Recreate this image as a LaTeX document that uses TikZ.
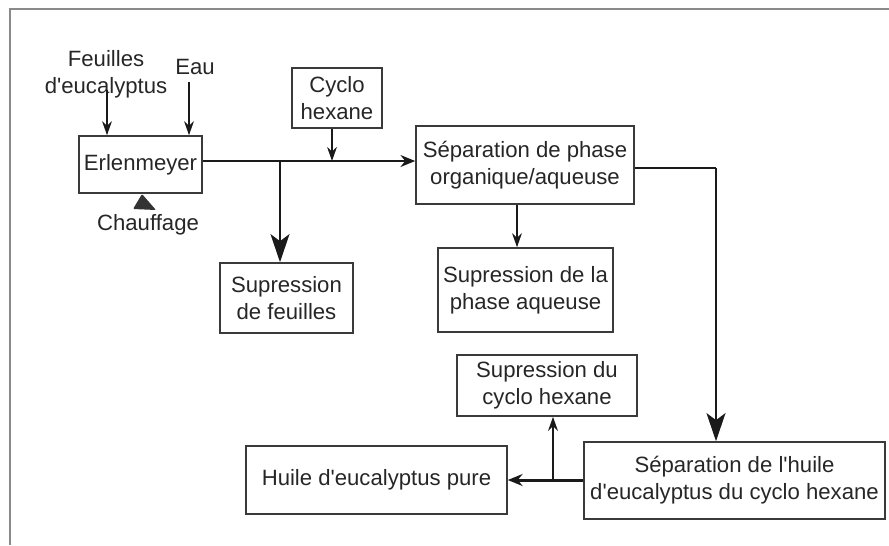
\documentclass[tikz,border=0pt]{standalone}
\usepackage{fontspec}
\setmainfont{Liberation Sans}[Ligatures=TeXOff]
\usetikzlibrary{arrows.meta,positioning,calc}
\definecolor{cLine}{HTML}{1A1A1A}
\definecolor{cBox}{HTML}{3A3A3A}
\definecolor{cFrame}{HTML}{8A8A8A}
\tikzset{
  box/.style={rectangle, draw=cBox, line width=0.45pt, align=center, inner sep=0pt, text=black!85},
  lbl/.style={align=center, inner sep=0pt, text=black!85},
  flow/.style={-{Stealth[length=4.2pt, width=3.4pt]}, line width=0.55pt, cLine},
  feed/.style={-{Stealth[length=4pt, width=2.8pt]}, line width=0.4pt, cLine},
  big/.style={-{Stealth[length=8pt, width=5.4pt, inset=2pt]}, line width=0.6pt, cLine},
}
\begin{document}
\begin{tikzpicture}[font=\fontsize{6.3}{7.7}\selectfont]
  \useasboundingbox (0,0) rectangle (8.89,-5.45);
  \draw[cFrame, line width=0.6pt] (8.89,-0.09) -| (0.10,-5.45);
  % boxes
  \node[box, minimum width=1.23cm, minimum height=0.57cm] (erlen) at (1.405,-1.645) {Erlenmeyer};
  \node[box, minimum width=0.90cm, minimum height=0.60cm] (cyclo) at (3.37,-0.98) {Cyclo\\hexane};
  \node[box, minimum width=2.18cm, minimum height=0.78cm] (sepphase) at (5.25,-1.65) {Séparation de phase\\organique/aqueuse};
  \node[box, minimum width=1.33cm, minimum height=0.70cm] (supfeuil) at (2.865,-2.98) {Supression\\de feuilles};
  \node[box, minimum width=1.75cm, minimum height=0.84cm] (supaq) at (5.255,-2.90) {Supression de la\\phase aqueuse};
  \node[box, minimum width=1.80cm, minimum height=0.61cm] (supcyclo) at (5.47,-3.855) {Supression du\\cyclo hexane};
  \node[box, minimum width=3.01cm, minimum height=0.77cm] (sephuile) at (7.345,-4.805) {Séparation de l'huile\\d'eucalyptus du cyclo hexane};
  \node[box, minimum width=2.61cm, minimum height=0.68cm] (huile) at (3.765,-4.80) {Huile d'eucalyptus pure};
  % inputs
  \node[lbl] (feuilles) at (1.06,-0.74) {Feuilles\\d'eucalyptus};
  \node[lbl] (eau) at (1.95,-0.67) {Eau};
  \node[lbl] (chauf) at (1.48,-2.25) {Chauffage};
  \fill[black!80, rounded corners=0.3pt] (1.33,-2.09) -- (1.56,-2.10) -- (1.42,-1.94) -- cycle;
  \coordinate (feutop) at (1.07,-0.90);
  \coordinate (eautop) at (1.89,-0.82);
  \coordinate (jfeu) at (2.80,-1.61);
  \coordinate (jcyc) at (3.32,-1.61);
  \coordinate (coin) at (7.16,-1.68);
  \coordinate (jhuile) at (5.53,-4.80);
  % connectors
  \draw[feed] (feutop) -- (feutop |- erlen.north);
  \draw[feed] (eautop) -- (eautop |- erlen.north);
  \draw[flow] (erlen.east |- jfeu) -- (sepphase.west |- jfeu);
  \draw[big] (jfeu) -- (jfeu |- supfeuil.north);
  \draw[feed] (jcyc |- cyclo.south) -- (jcyc);
  \draw[feed] (sepphase.south -| 5.17,0) -- (supaq.north -| 5.17,0);
  \draw[line width=0.6pt, cLine] (sepphase.east |- coin) -- (coin);
  \draw[big] (coin) -- (coin |- sephuile.north);
  \draw[flow, line width=0.85pt] (sephuile.west |- jhuile) -- (huile.east |- jhuile);
  \draw[feed, line width=0.5pt] (jhuile) -- (jhuile |- supcyclo.south);
\end{tikzpicture}
\end{document}
